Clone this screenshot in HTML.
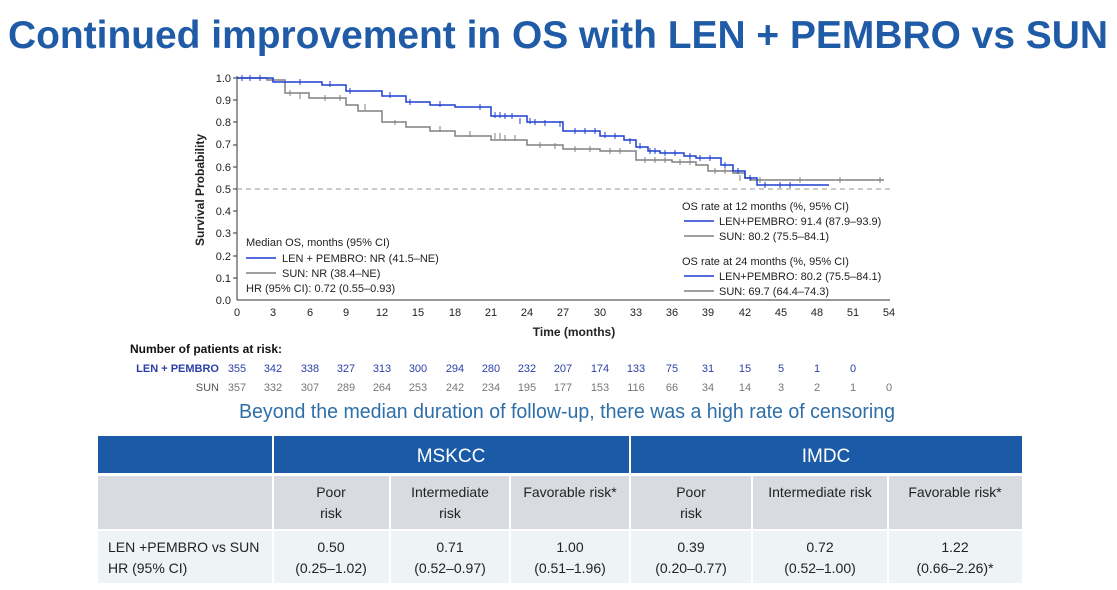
<!DOCTYPE html>
<html><head><meta charset="utf-8"><style>
body{margin:0;background:#fff;}
svg{display:block;font-family:"Liberation Sans",sans-serif;}
</style></head><body>
<svg width="1117" height="590" viewBox="0 0 1117 590">
<text x="8" y="48" font-size="39" font-weight="bold" fill="#1f5ba6" textLength="1100" lengthAdjust="spacingAndGlyphs">Continued improvement in OS with LEN + PEMBRO vs SUN</text>
<!-- axes -->
<g stroke="#333" stroke-width="1">
<line x1="237" y1="76" x2="237" y2="300"/>
<line x1="237" y1="300" x2="890" y2="300"/>
</g>
<g font-size="11" fill="#222" text-anchor="end">
<text x="231" y="82">1.0</text><text x="231" y="104">0.9</text><text x="231" y="126">0.8</text><text x="231" y="148">0.7</text><text x="231" y="171">0.6</text><text x="231" y="193">0.5</text><text x="231" y="215">0.4</text><text x="231" y="237">0.3</text><text x="231" y="260">0.2</text><text x="231" y="282">0.1</text><text x="231" y="304">0.0</text>
</g>
<g stroke="#333">
<line x1="233" y1="78" x2="237" y2="78"/><line x1="233" y1="100" x2="237" y2="100"/><line x1="233" y1="122" x2="237" y2="122"/><line x1="233" y1="145" x2="237" y2="145"/><line x1="233" y1="167" x2="237" y2="167"/><line x1="233" y1="189" x2="237" y2="189"/><line x1="233" y1="211" x2="237" y2="211"/><line x1="233" y1="233" x2="237" y2="233"/><line x1="233" y1="256" x2="237" y2="256"/><line x1="233" y1="278" x2="237" y2="278"/>
</g>
<g font-size="11" fill="#222" text-anchor="middle">
<text x="237" y="316">0</text><text x="273" y="316">3</text><text x="310" y="316">6</text><text x="346" y="316">9</text><text x="382" y="316">12</text><text x="418" y="316">15</text><text x="455" y="316">18</text><text x="491" y="316">21</text><text x="527" y="316">24</text><text x="563" y="316">27</text><text x="600" y="316">30</text><text x="636" y="316">33</text><text x="672" y="316">36</text><text x="708" y="316">39</text><text x="745" y="316">42</text><text x="781" y="316">45</text><text x="817" y="316">48</text><text x="853" y="316">51</text><text x="889" y="316">54</text>
</g>
<text x="574" y="336" font-size="12" font-weight="bold" text-anchor="middle" fill="#222">Time (months)</text>
<text transform="translate(204,190) rotate(-90)" font-size="12" font-weight="bold" text-anchor="middle" fill="#222">Survival Probability</text>
<line x1="237" y1="189" x2="890" y2="189" stroke="#999" stroke-dasharray="5,4"/>
<polyline fill="none" stroke="#808080" stroke-width="1.5" points="237,78 267,78 267,80 285,80 285,93 309,93 309,98 346,98 346,105 358,105 358,111 382,111 382,122 406,122 406,127 430,127 430,131 455,131 455,136 491,136 491,140 527,140 527,145 563,145 563,149 600,149 600,151 636,151 636,160 672,160 672,162 696,162 696,165 708,165 708,171 733,171 733,173 745,173 745,178 751,178 751,180 884,180"/>
<polyline fill="none" stroke="#1e3fcf" stroke-width="1.5" points="237,78 273,78 273,82 322,82 322,85 346,85 346,91 382,91 382,96 406,96 406,102 430,102 430,105 455,105 455,107 491,107 491,116 527,116 527,122 563,122 563,131 600,131 600,136 624,136 624,140 636,140 636,147 648,147 648,151 660,151 660,153 684,153 684,156 696,156 696,158 721,158 721,165 733,165 733,171 745,171 745,178 757,178 757,185 829,185"/>
<g stroke="#808080" stroke-width="1">
<path d="M290,90v6M300,93v6M325,95v6M340,95v6M365,104v6M395,120v5M440,126v6M470,131v6M495,133v6M500,133v6M505,135v6M515,135v6M540,142v6M555,143v6M575,146v6M590,146v6M610,148v6M620,148v6M645,157v6M655,157v6M665,157v6M680,159v6M690,159v6M715,168v6M725,168v6M740,175v6M760,177v6M800,177v6M840,177v6M880,177v6"/>
</g>
<g stroke="#1e3fcf" stroke-width="1">
<path d="M242,75v6M250,75v6M260,75v6M300,79v6M330,81v6M350,88v6M390,92v6M410,99v6M440,101v6M480,104v6M495,112v6M500,112v6M505,113v6M512,113v6M520,118v6M530,118v6M535,119v6M545,120v6M560,121v6M575,128v6M585,128v6M595,128v6M605,132v6M615,133v6M630,138v6M640,143v6M650,148v6M655,148v6M665,150v6M675,150v6M690,153v6M700,155v6M710,155v6M725,162v6M738,168v6M750,175v6M765,182v6M780,182v6M790,182v6"/>
</g>
<!-- legends -->
<g font-size="11" fill="#222">
<text x="246" y="246">Median OS, months (95% CI)</text>
<line x1="246" y1="258" x2="276" y2="258" stroke="#1e3fcf" stroke-width="1.5"/><text x="282" y="262">LEN + PEMBRO: NR (41.5–NE)</text>
<line x1="246" y1="273" x2="276" y2="273" stroke="#808080" stroke-width="1.5"/><text x="282" y="277">SUN: NR (38.4–NE)</text>
<text x="246" y="292">HR (95% CI): 0.72 (0.55–0.93)</text>
<text x="682" y="210">OS rate at 12 months (%, 95% CI)</text>
<line x1="684" y1="221" x2="714" y2="221" stroke="#1e3fcf" stroke-width="1.5"/><text x="719" y="225">LEN+PEMBRO: 91.4 (87.9–93.9)</text>
<line x1="684" y1="236" x2="714" y2="236" stroke="#808080" stroke-width="1.5"/><text x="719" y="240">SUN: 80.2 (75.5–84.1)</text>
<text x="682" y="265">OS rate at 24 months (%, 95% CI)</text>
<line x1="684" y1="276" x2="714" y2="276" stroke="#1e3fcf" stroke-width="1.5"/><text x="719" y="280">LEN+PEMBRO: 80.2 (75.5–84.1)</text>
<line x1="684" y1="291" x2="714" y2="291" stroke="#808080" stroke-width="1.5"/><text x="719" y="295">SUN: 69.7 (64.4–74.3)</text>
</g>
<!-- risk table -->
<text x="130" y="353" font-size="12" font-weight="bold" fill="#111">Number of patients at risk:</text>
<text x="219" y="372" font-size="11" font-weight="bold" fill="#2b3fa8" text-anchor="end">LEN + PEMBRO</text>
<text x="219" y="391" font-size="11" fill="#555" text-anchor="end">SUN</text>
<g font-size="11" fill="#2b3fa8" text-anchor="middle">
<text x="237" y="372">355</text><text x="273" y="372">342</text><text x="310" y="372">338</text><text x="346" y="372">327</text><text x="382" y="372">313</text><text x="418" y="372">300</text><text x="455" y="372">294</text><text x="491" y="372">280</text><text x="527" y="372">232</text><text x="563" y="372">207</text><text x="600" y="372">174</text><text x="636" y="372">133</text><text x="672" y="372">75</text><text x="708" y="372">31</text><text x="745" y="372">15</text><text x="781" y="372">5</text><text x="817" y="372">1</text><text x="853" y="372">0</text>
</g>
<g font-size="11" fill="#777" text-anchor="middle">
<text x="237" y="391">357</text><text x="273" y="391">332</text><text x="310" y="391">307</text><text x="346" y="391">289</text><text x="382" y="391">264</text><text x="418" y="391">253</text><text x="455" y="391">242</text><text x="491" y="391">234</text><text x="527" y="391">195</text><text x="563" y="391">177</text><text x="600" y="391">153</text><text x="636" y="391">116</text><text x="672" y="391">66</text><text x="708" y="391">34</text><text x="745" y="391">14</text><text x="781" y="391">3</text><text x="817" y="391">2</text><text x="853" y="391">1</text><text x="889" y="391">0</text>
</g>
<text x="567" y="418" font-size="20" fill="#2e6fa8" text-anchor="middle" textLength="656" lengthAdjust="spacingAndGlyphs">Beyond the median duration of follow-up, there was a high rate of censoring</text>
<!-- table -->
<rect x="98" y="436" width="924" height="37" fill="#1b5aa7"/>
<rect x="98" y="476" width="924" height="53" fill="#d8dce1"/>
<rect x="98" y="531" width="924" height="52" fill="#eef3f6"/>
<g stroke="#fff" stroke-width="2">
<line x1="273" y1="436" x2="273" y2="583"/><line x1="630" y1="436" x2="630" y2="583"/>
<line x1="390" y1="476" x2="390" y2="583"/><line x1="510" y1="476" x2="510" y2="583"/>
<line x1="752" y1="476" x2="752" y2="583"/><line x1="888" y1="476" x2="888" y2="583"/>
</g>
<g font-size="19" fill="#fff" text-anchor="middle"><text x="451" y="462">MSKCC</text><text x="826" y="462">IMDC</text></g>
<g font-size="14" fill="#222" text-anchor="middle">
<text x="331" y="497">Poor</text><text x="331" y="518">risk</text>
<text x="450" y="497">Intermediate</text><text x="450" y="518">risk</text>
<text x="570" y="497">Favorable risk*</text>
<text x="691" y="497">Poor</text><text x="691" y="518">risk</text>
<text x="820" y="497">Intermediate risk</text>
<text x="955" y="497">Favorable risk*</text>
<text x="331" y="552">0.50</text><text x="331" y="573">(0.25–1.02)</text>
<text x="450" y="552">0.71</text><text x="450" y="573">(0.52–0.97)</text>
<text x="570" y="552">1.00</text><text x="570" y="573">(0.51–1.96)</text>
<text x="691" y="552">0.39</text><text x="691" y="573">(0.20–0.77)</text>
<text x="820" y="552">0.72</text><text x="820" y="573">(0.52–1.00)</text>
<text x="955" y="552">1.22</text><text x="955" y="573">(0.66–2.26)*</text>
</g>
<g font-size="14" fill="#222"><text x="108" y="552">LEN +PEMBRO vs SUN</text><text x="108" y="573">HR (95% CI)</text></g>
</svg>
</body></html>
